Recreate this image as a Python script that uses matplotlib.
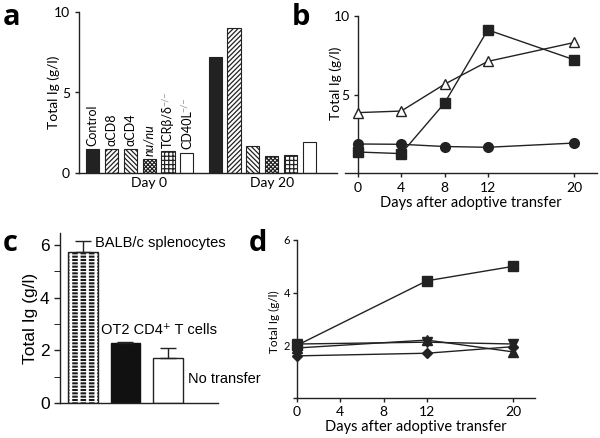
import numpy as np
import matplotlib
matplotlib.use('Agg')
import matplotlib.pyplot as plt
from matplotlib.transforms import IdentityTransform

plt.rcParams['font.family'] = ['Lato', 'DejaVu Sans']
plt.rcParams['hatch.linewidth'] = 0.9
plt.rcParams['axes.linewidth'] = 1.0
plt.rcParams['axes.edgecolor'] = '#222222'

# panel a: Ig at day 0 / day 20 per treatment
a_groups = ['Day 0', 'Day 20']
a_labels = ['Control', 'αCD8', 'αCD4', 'nu/nu', 'TCRβ/δ', 'CD40L']
a_day0 = [1.5, 1.5, 1.5, 0.87, 1.38, 1.26]
a_day20 = [7.2, 9.0, 1.7, 1.05, 1.12, 1.95]

# panel b: time course after adoptive transfer
b_days = [0, 4, 8, 12, 20]
b_triangle = [3.85, 3.95, 5.65, 7.1, 8.3]
b_square = [1.35, 1.25, 4.45, 9.1, 7.2]
b_circle = [1.86, 1.84, 1.7, 1.65, 1.92]

# panel c
c_groups = ['BALB/c splenocytes', 'OT2 CD4⁺ T cells', 'No transfer']
c_mean = [5.72, 2.28, 1.73]
c_err = [0.43, 0.04, 0.35]

# panel d
d_days = [0, 12, 20]
d_square = [2.0, 4.45, 5.0]
d_up = [1.9, 2.2, 1.75]
d_down = [2.05, 2.12, 2.05]
d_diamond = [1.6, 1.7, 1.95]

W, H = 600, 438


def rect(l, t, r, b):
    return [l / W, 1 - b / H, (r - l) / W, (b - t) / H]


def clean(ax):
    ax.spines['top'].set_visible(False)
    ax.spines['right'].set_visible(False)
    ax.tick_params(direction='out', length=3, width=1, color='#222222')


fig = plt.figure(figsize=(6, 4.38), dpi=100)

# ---------------- a ----------------
axA = fig.add_axes(rect(79, 12, 337, 173))
clean(axA)
pos0 = np.arange(6)
pos20 = pos0 + 6.5
hatches = [None, '///////', '\\\\\\\\\\\\\\', 'xxxxxxxx', '++++', None]
faces = ['#222222', 'white', 'white', 'white', 'white', 'white']
for i in range(6):
    axA.bar(pos0[i], a_day0[i], 0.7, color=faces[i], edgecolor='#222222',
            hatch=hatches[i], lw=0.8)
    axA.bar(pos20[i], a_day20[i], 0.7, color=faces[i], edgecolor='#222222',
            hatch=hatches[i], lw=0.8)
txts = []
for i in range(6):
    t = axA.text(pos0[i], a_day0[i] + 0.2, a_labels[i], rotation=90,
                 ha='center', va='bottom', fontsize=9,
                 style='italic' if a_labels[i] == 'nu/nu' else 'normal')
    txts.append(t)
axA.set_xlim(-0.72, 12.96)
axA.set_ylim(0, 10)
axA.set_yticks([0, 5, 10])
axA.set_xticks([3.0, 9.5], a_groups)
axA.tick_params(axis='x', length=0, labelsize=10, pad=3)
axA.tick_params(axis='y', labelsize=10)
axA.set_ylabel('Total Ig (g/l)', fontsize=10)
axA.yaxis.set_label_coords(-0.074, 0.5)

# ---------------- b ----------------
axB = fig.add_axes(rect(345, 15.7, 597, 173.3))
clean(axB)
axB.spines['left'].set_position(('data', 0))
axB.plot(b_days, b_triangle, color='#222222', lw=1, marker='^', ms=7,
         mfc='white', mec='#222222', mew=1, zorder=3)
axB.plot(b_days, b_square, color='#222222', lw=1, marker='s', ms=6.5,
         mfc='#222222', mec='#222222', zorder=3)
axB.plot(b_days, b_circle, color='#222222', lw=1, marker='o', ms=7,
         mfc='#222222', mec='#222222', zorder=3)
axB.set_xlim(-1.2, 22.1)
axB.set_ylim(0, 10)
axB.set_yticks([5, 10])
axB.set_xticks(b_days)
axB.tick_params(labelsize=10, pad=3)
axB.set_xlabel('Days after adoptive transfer', fontsize=10.5, labelpad=2)
axB.set_ylabel('Total Ig (g/l)', fontsize=10)
axB.yaxis.set_label_coords(-0.01, 0.57)

# ---------------- c ----------------
cfont = ['Liberation Sans', 'DejaVu Sans']
axC = fig.add_axes(rect(60, 233, 218, 403.3))
clean(axC)
xc = np.arange(3)
axC.bar(xc[0], c_mean[0], 0.7, color='#1a1a1a', edgecolor='white',
        hatch='-----', lw=0)
stripes = axC.bar(xc[0], c_mean[0], 0.7, fill=False, edgecolor='white',
                  hatch='||', lw=0)
if hasattr(stripes[0], 'set_hatch_linewidth'):
    stripes[0].set_hatch_linewidth(2.0)
axC.bar(xc[1], c_mean[1], 0.7, color='#111111', edgecolor='#111111', lw=1)
axC.bar(xc[2], c_mean[2], 0.7, color='white', edgecolor='#222222', lw=1)
axC.bar(xc[0], c_mean[0], 0.7, fill=False, edgecolor='#222222', lw=1)
axC.errorbar(xc, c_mean, yerr=[[0, 0, 0], c_err], fmt='none',
             ecolor='#222222', elinewidth=1, capsize=5.5, capthick=1)
axC.text(xc[0] + 0.28, c_mean[0] + c_err[0] - 0.08, c_groups[0],
         fontsize=10.5, family=cfont, va='center', ha='left')
axC.text(xc[1] - 0.58, c_mean[1] + 0.5, c_groups[1],
         fontsize=10.5, family=cfont, va='center', ha='left')
axC.text(xc[2] + 0.47, 0.92, c_groups[2],
         fontsize=10.5, family=cfont, va='center', ha='left')
axC.set_xlim(-0.54, 3.18)
axC.set_ylim(0, 6.45)
axC.set_xticks([])
axC.set_yticks([0, 2, 4, 6])
axC.set_yticks([1, 3, 5], minor=True)
axC.tick_params(axis='y', which='both', length=4)
for lab in axC.get_yticklabels():
    lab.set_family(cfont)
    lab.set_fontsize(12.5)
axC.set_ylabel('Total Ig (g/l)', fontsize=12.5, family=cfont)
axC.yaxis.set_label_coords(-0.14, 0.5)

# ---------------- d ----------------
axD = fig.add_axes(rect(297, 240, 535, 398))
clean(axD)
for ys, mk, ms in [(d_diamond, 'D', 5.5), (d_up, '^', 7.5),
                   (d_down, 'v', 7.5), (d_square, 's', 6.5)]:
    axD.plot(d_days, ys, color='#222222', lw=1, marker=mk, ms=ms,
             mfc='#222222', mec='#222222', clip_on=False, zorder=3)
axD.set_xlim(0, 22)
axD.set_ylim(0, 6)
axD.set_yticks([0, 2, 4, 6], ['', '2', '4', '6'])
axD.set_xticks([0, 4, 8, 12, 20])
axD.tick_params(axis='y', labelsize=8, pad=2)
axD.tick_params(axis='x', labelsize=10, pad=3)
axD.set_xlabel('Days after adoptive transfer', fontsize=10.5, labelpad=1)
axD.set_ylabel('Total Ig (g/l)', fontsize=8.5)
axD.yaxis.set_label_coords(-0.072, 0.48)

# panel letters
for s, x, y in [('a', 3, 3), ('b', 292, 3), ('c', 3, 229), ('d', 249, 229)]:
    fig.text(x / W, 1 - y / H, s, fontsize=21, fontweight='bold',
             ha='left', va='top', family=['Open Sans', 'DejaVu Sans'])

# grey -/- superscripts on the knockout labels
fig.canvas.draw()
rend = fig.canvas.get_renderer()
for i in (4, 5):
    bb = txts[i].get_window_extent(rend)
    fig.text(bb.x0 + 0.3 * (bb.x1 - bb.x0), bb.y1 - 1, '−/−', rotation=90,
             ha='center', va='bottom', fontsize=6.5, color='#8a8a8a',
             transform=IdentityTransform())

fig.savefig('out.png', dpi=100)
